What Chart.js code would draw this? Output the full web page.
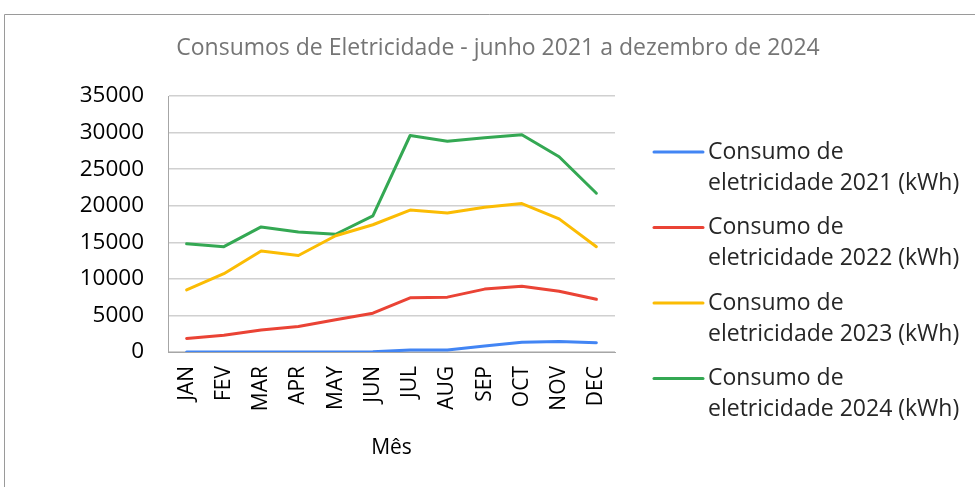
<!DOCTYPE html>
<html>
<head>
<meta charset="utf-8">
<script src="https://cdn.jsdelivr.net/npm/chart.js@4"></script>
<style>
  html, body { margin: 0; padding: 0; background: #fff; }
  #wrap { width: 975px; height: 487px; position: relative; }
</style>
</head>
<body>
<div id="wrap"><canvas id="c" width="975" height="487"></canvas></div>
<script>
const months = ['JAN','FEV','MAR','APR','MAY','JUN','JUL','AUG','SEP','OCT','NOV','DEC'];
const consumo2021 = [0, 0, 0, 0, 0, 50, 270, 270, 820, 1320, 1450, 1270];
const consumo2022 = [1850, 2300, 3000, 3500, 4400, 5300, 7400, 7500, 8600, 9000, 8300, 7200];
const consumo2023 = [8500, 10700, 13800, 13200, 15900, 17400, 19400, 19000, 19800, 20300, 18200, 14400];
const consumo2024 = [14800, 14400, 17100, 16400, 16100, 18600, 29600, 28800, 29300, 29700, 26700, 21700];
const seriesLabels = [
  ['Consumo de', 'eletricidade 2021 (kWh)'],
  ['Consumo de', 'eletricidade 2022 (kWh)'],
  ['Consumo de', 'eletricidade 2023 (kWh)'],
  ['Consumo de', 'eletricidade 2024 (kWh)']
];
const yTicks = [0, 5000, 10000, 15000, 20000, 25000, 30000, 35000];
const chartTitle = 'Consumos de Eletricidade - junho 2021 a dezembro de 2024';
const xTitle = 'Mês';

const colors = ['#4285F4', '#EA4335', '#FBBC04', '#34A853'];
const FONT = "'Open Sans', 'Liberation Sans', Arial, sans-serif";

const frame = {
  id: 'frame',
  beforeDraw(chart) {
    const ctx = chart.ctx;
    ctx.save();
    ctx.strokeStyle = '#9a9a9a';
    ctx.lineWidth = 1;
    ctx.beginPath();
    ctx.moveTo(4.5, 487);
    ctx.lineTo(4.5, 14.5);
    ctx.lineTo(975, 14.5);
    ctx.stroke();
    ctx.restore();
  }
};

const sideLegend = {
  id: 'sideLegend',
  afterDraw(chart) {
    const ctx = chart.ctx;
    ctx.save();
    ctx.font = '23px ' + FONT;
    ctx.textBaseline = 'middle';
    ctx.textAlign = 'left';
    chart.data.datasets.forEach((ds, i) => {
      const y = 152 + i * 75.5;
      ctx.strokeStyle = ds.borderColor;
      ctx.lineWidth = 3;
      ctx.lineCap = 'round';
      ctx.beginPath();
      ctx.moveTo(654, y);
      ctx.lineTo(703, y);
      ctx.stroke();
      ctx.fillStyle = '#262626';
      const lines = seriesLabels[i];
      lines.forEach((t, j) => ctx.fillText(t, 708, y + j * 31));
    });
    ctx.restore();
  }
};

const datasets = [consumo2021, consumo2022, consumo2023, consumo2024].map((d, i) => ({
  label: seriesLabels[i].join(' '),
  data: d,
  borderColor: colors[i],
  backgroundColor: colors[i],
  borderWidth: 3,
  pointRadius: 0,
  tension: 0,
  borderCapStyle: 'round',
  borderJoinStyle: 'round',
  yAxisID: 'y'
}));

new Chart(document.getElementById('c'), {
  type: 'line',
  data: { labels: months, datasets: datasets },
  options: {
    responsive: false,
    animation: false,
    devicePixelRatio: 1,
    layout: { padding: { left: 21, right: 0, top: 0, bottom: 0 } },
    plugins: {
      legend: { display: false },
      tooltip: { enabled: false },
      title: {
        display: true,
        text: chartTitle,
        color: '#757575',
        font: { family: FONT, size: 23, weight: 'normal', lineHeight: 1.2 },
        padding: { top: 34.2, bottom: 34.2 }
      }
    },
    scales: {
      x: {
        type: 'category',
        offset: true,
        grid: { display: false, drawTicks: false },
        border: { display: true, color: '#a6a6a6', width: 1 },
        ticks: {
          color: '#000',
          font: { family: FONT, size: 21 },
          minRotation: 90,
          maxRotation: 90,
          padding: 14,
          autoSkip: false
        },
        title: {
          display: true,
          text: xTitle,
          color: '#000',
          font: { family: FONT, size: 21, lineHeight: 1.2 },
          padding: { top: 0, bottom: 26.4 }
        },
        afterFit(s) { s.height = 135; }
      },
      y: {
        position: 'left',
        min: 0,
        max: 35000,
        afterBuildTicks(s) { s.ticks = yTicks.map(v => ({ value: v })); },
        grid: { color: '#d0d0d0', lineWidth: 1.5, drawTicks: false },
        border: { display: true, color: '#a6a6a6', width: 1 },
        ticks: {
          color: '#000',
          font: { family: FONT, size: 22.5 },
          padding: 24,
          callback: v => String(v)
        },
        afterFit(s) { s.width = 147; }
      },
      yR: {
        position: 'right',
        display: true,
        grid: { display: false, drawTicks: false },
        border: { display: false },
        ticks: { display: false },
        afterFit(s) { s.width = 360; }
      }
    }
  },
  plugins: [frame, sideLegend]
});
</script>
</body>
</html>
